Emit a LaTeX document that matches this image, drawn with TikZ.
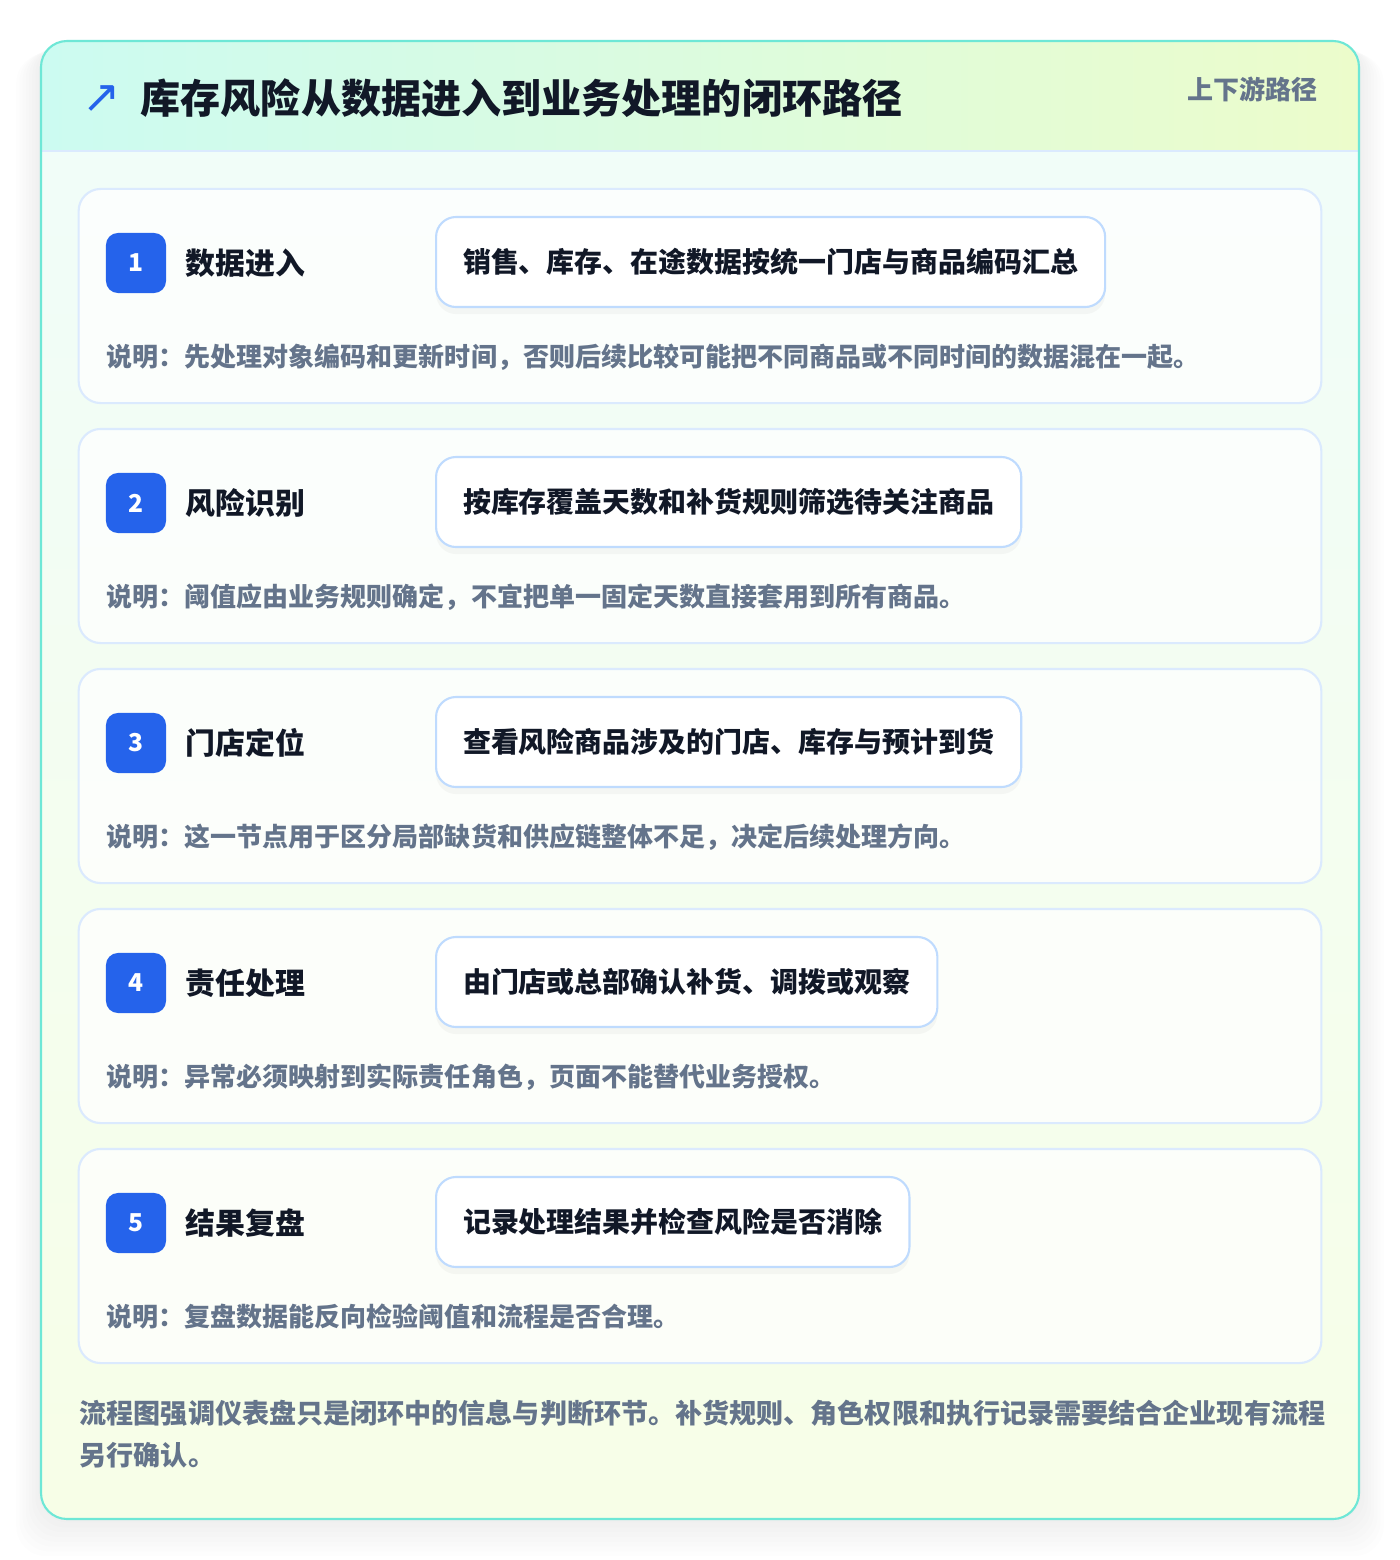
\documentclass[tikz,border=0pt]{standalone}
\usepackage{fontspec}
\setmainfont{Noto Sans CJK SC}
\newfontfamily\symfont{DejaVu Sans}
\usetikzlibrary{positioning,shadows}

\definecolor{inkdark}{HTML}{111827}
\definecolor{stepblue}{HTML}{2563EB}
\definecolor{notegray}{HTML}{64748B}
\definecolor{cardline}{HTML}{DBEAFE}
\definecolor{boxline}{HTML}{BFDBFE}
\definecolor{frameline}{HTML}{6EE7D6}
\definecolor{headleft}{HTML}{CCFBF1}
\definecolor{headright}{HTML}{ECFCCB}
\definecolor{bodytop}{HTML}{F0FDFA}
\definecolor{bodybot}{HTML}{F7FEE7}

\begin{document}
\begin{tikzpicture}[
  x=0.01cm, y=-0.01cm,
  stepcard/.style={draw=cardline, line width=0.6pt, fill=white, fill opacity=0.75, draw opacity=1,
    rounded corners=0.22cm, minimum width=12.42cm, minimum height=2.14cm, inner sep=0pt},
  badge/.style={fill=stepblue, text=white, rounded corners=0.12cm, minimum size=0.6cm,
    inner sep=0pt, font=\fontsize{7}{8}\selectfont\bfseries},
  steplabel/.style={anchor=west, text=inkdark, inner sep=0pt, font=\fontsize{8.5}{10}\selectfont\bfseries},
  actionbox/.style={draw=boxline, line width=0.6pt, fill=white, rounded corners=0.2cm,
    minimum height=0.9cm, inner xsep=0.27cm, anchor=west, text=inkdark,
    font=\fontsize{7.95}{9.5}\selectfont\bfseries,
    drop shadow={opacity=0.06, shadow xshift=0pt, shadow yshift=-2pt}},
  notetext/.style={anchor=west, inner sep=0pt, text=notegray, font=\fontsize{7.4}{9}\selectfont\bfseries}
]
\useasboundingbox (0,0) rectangle (1400,1560);
\fill[white] (0,0) rectangle (1400,1560);

% soft shadow under the frame
\foreach \s in {3,7,...,31}
  \fill[black, opacity=0.006, rounded corners=0.3cm]
    (41-\s*0.8,41+\s*0.4) rectangle (1359+\s*0.8,1519+\s*1.2);

% frame with header band
\fill[top color=bodytop, bottom color=bodybot, rounded corners=0.26cm] (41,41) rectangle (1359,1519);
\begin{scope}
  \clip[rounded corners=0.26cm] (41,41) rectangle (1359,1519);
  \fill[left color=headleft, right color=headright] (41,41) rectangle (1359,151);
\end{scope}
\draw[cardline, line width=0.6pt] (42,151) -- (1358,151);
\draw[frameline, line width=0.6pt, rounded corners=0.26cm] (41,41) rectangle (1359,1519);

% header
\node[anchor=center, text=stepblue, inner sep=0pt, font=\symfont\fontsize{13}{15}\selectfont] (icon) at (102,99) {↗};
\node[anchor=west, text=inkdark, inner sep=0pt, font=\fontsize{11.4}{14}\selectfont\bfseries] (title) at (140,98) {库存风险从数据进入到业务处理的闭环路径};
\node[anchor=east, text=notegray, inner sep=0pt, font=\fontsize{7.4}{9}\selectfont\bfseries] (tag) at (1318,89) {上下游路径};

% steps
\foreach \i/\lab/\act/\note in {
  1/数据进入/销售、库存、在途数据按统一门店与商品编码汇总/说明：先处理对象编码和更新时间，否则后续比较可能把不同商品或不同时间的数据混在一起。,
  2/风险识别/按库存覆盖天数和补货规则筛选待关注商品/说明：阈值应由业务规则确定，不宜把单一固定天数直接套用到所有商品。,
  3/门店定位/查看风险商品涉及的门店、库存与预计到货/说明：这一节点用于区分局部缺货和供应链整体不足，决定后续处理方向。,
  4/责任处理/由门店或总部确认补货、调拨或观察/说明：异常必须映射到实际责任角色，页面不能替代业务授权。,
  5/结果复盘/记录处理结果并检查风险是否消除/说明：复盘数据能反向检验阈值和流程是否合理。}
{
  \pgfmathsetmacro{\top}{189+240*(\i-1)}
  \node[stepcard] (card\i) at (700,\top+107) {};
  \node[badge] (badge\i) at (136,\top+74) {\i};
  \node[steplabel, right=0.18cm of badge\i] (label\i) {\lab};
  \node[actionbox] (act\i) at (435,\top+73) {\act};
  \node[notetext] (note\i) at (106,\top+168) {\note};
}

% footer
\node[anchor=north west, inner sep=0pt, align=left, text=notegray,
  font=\fontsize{7.7}{12}\selectfont\bfseries] (foot) at (79,1399)
  {流程图强调仪表盘只是闭环中的信息与判断环节。补货规则、角色权限和执行记录需要结合企业现有流程\\另行确认。};
\end{tikzpicture}
\end{document}
